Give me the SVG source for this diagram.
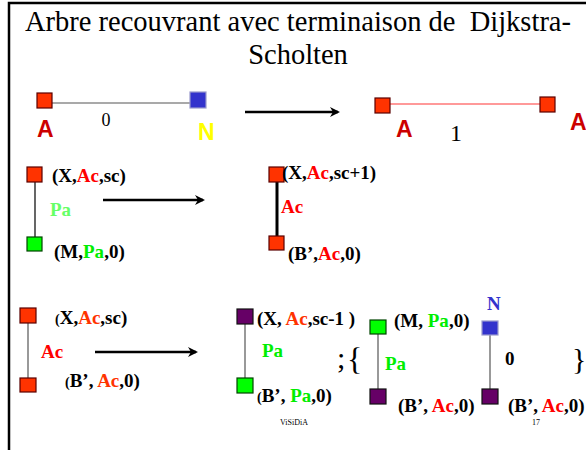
<svg xmlns="http://www.w3.org/2000/svg" width="586" height="450" viewBox="0 0 586 450">
<style>
.t{font-family:"Liberation Serif","Times New Roman","DejaVu Serif",serif;fill:#000}
.b{font-family:"Liberation Serif","Times New Roman","DejaVu Serif",serif;font-weight:bold;font-size:19px}
.k{fill:#000}
.s{font-family:"Liberation Sans",Arial,sans-serif;font-weight:bold}
.r{fill:#ff3300}
.rr{fill:#ff0000}
.g{fill:#00ee00}
.lg{fill:#66ff66}
.nr{fill:#ff3300;stroke:#5a0000;stroke-width:1.2}
.ng{fill:#00ff00;stroke:#004400;stroke-width:1.2}
.nb{fill:#3333cc;stroke:#9999cc;stroke-width:1.2}
.np{fill:#660066;stroke:#111;stroke-width:1.2}
.e{stroke:#555;stroke-width:1.2;fill:none}
.arr{stroke:#000;stroke-width:2.5;fill:none}
</style>
<defs>
<marker id="ah" markerWidth="10" markerHeight="10" refX="8" refY="5" orient="auto" markerUnits="userSpaceOnUse">
<path d="M0,0 L10,5 L0,10 L3,5 Z" fill="#000"/>
</marker>
</defs>
<g id="frame">
<path d="M9,450 V3 H586" stroke="#000" stroke-width="2.5" fill="none"/>
</g>
<g id="title">
<text class="t" x="298" y="31" font-size="28.5" text-anchor="middle" xml:space="preserve">Arbre recouvrant avec terminaison de  Dijkstra-</text>
<text class="t" x="298" y="64" font-size="28.5" text-anchor="middle">Scholten</text>
</g>
<g id="connectors">
<line class="e" x1="52" y1="103" x2="190" y2="103"/>
<line x1="390" y1="104" x2="540" y2="104" stroke="#ff7777" stroke-width="1.5"/>
<line x1="35" y1="182" x2="35" y2="237" stroke="#000" stroke-width="1.2"/>
<line x1="277" y1="182" x2="277" y2="236" stroke="#000" stroke-width="3"/>
<line class="e" x1="28" y1="323" x2="28" y2="378"/>
<line class="e" x1="245" y1="324" x2="245" y2="378"/>
<line class="e" x1="378" y1="334" x2="378" y2="389"/>
<line class="e" x1="490" y1="335" x2="490" y2="389"/>
<line class="arr" x1="245" y1="112" x2="338" y2="112" marker-end="url(#ah)"/>
<line class="arr" x1="103" y1="200" x2="203" y2="200" marker-end="url(#ah)"/>
<line class="arr" x1="95" y1="352" x2="196" y2="352" marker-end="url(#ah)"/>
</g>
<g id="r1-A">
<rect class="nr" x="37" y="93" width="15" height="15"/>
<text class="s" x="37" y="137" font-size="23" fill="#cc0000">A</text>
</g>
<g id="r1-N">
<rect class="nb" x="190" y="92" width="16" height="16"/>
<text class="s" x="198" y="140" font-size="23" fill="#ffff00">N</text>
</g>
<text class="t" x="106" y="126" font-size="18" text-anchor="middle">0</text>
<g id="r1-A2">
<rect class="nr" x="375" y="98" width="15" height="15"/>
<text class="s" x="396" y="137" font-size="23" fill="#cc0000">A</text>
</g>
<g id="r1-A3">
<rect class="nr" x="540" y="97" width="15" height="15"/>
<text class="s" x="570" y="130" font-size="23" fill="#cc0000">A</text>
</g>
<text class="t" x="456" y="141" font-size="24" text-anchor="middle">1</text>

<g id="r2-X">
<rect class="nr" x="27" y="167" width="15" height="15"/>
<text class="b k" x="52" y="182">(X,<tspan class="rr">Ac</tspan>,sc)</text>
</g>
<text class="b lg" x="50" y="216" font-size="21">Pa</text>
<g id="r2-M">
<rect class="ng" x="27" y="237" width="15" height="14"/>
<text class="b k" x="54" y="258">(M,<tspan class="g">Pa</tspan>,0)</text>
</g>
<g id="r2-X2">
<rect class="nr" x="269" y="167" width="15" height="15"/>
<text class="b k" x="282" y="179">(X,<tspan class="rr">Ac</tspan>,sc+1)</text>
</g>
<text class="b rr" x="281" y="213">Ac</text>
<g id="r2-B">
<rect class="nr" x="269" y="236" width="15" height="14"/>
<text class="b k" x="288" y="260">(B’,<tspan class="rr">Ac</tspan>,0)</text>
</g>

<g id="r3-X">
<rect class="nr" x="20" y="308" width="16" height="15"/>
<text class="b k" x="55" y="324"><tspan font-size="14">(</tspan>X,<tspan class="r">Ac</tspan>,sc)</text>
</g>
<text class="b rr" x="41" y="358">Ac</text>
<g id="r3-B">
<rect class="nr" x="20" y="378" width="16" height="14"/>
<text class="b k" x="65" y="387"><tspan font-size="14">(</tspan>B’, <tspan class="r">Ac</tspan>,0)</text>
</g>

<g id="r3-X2">
<rect class="np" x="237" y="309" width="16" height="15"/>
<text class="b k" x="257" y="325">(X, <tspan class="r">Ac</tspan>,sc-1 )</text>
</g>
<text class="b g" x="262" y="357">Pa</text>
<g id="r3-B2">
<rect class="ng" x="237" y="378" width="16" height="15"/>
<text class="b k" x="257" y="402"><tspan font-size="14">(</tspan>B’, <tspan class="g">Pa</tspan>,0)</text>
</g>
<text class="t" x="337" y="368" font-size="30">;</text>
<text class="t" x="347" y="370" font-size="32">{</text>

<g id="r3-M">
<rect class="ng" x="370" y="320" width="16" height="14"/>
<text class="b k" x="394" y="327">(M, <tspan class="g">Pa</tspan>,0)</text>
</g>
<text class="b g" x="385" y="370">Pa</text>
<g id="r3-B3">
<rect class="np" x="370" y="389" width="16" height="15"/>
<text class="b k" x="398" y="412">(B’, <tspan class="rr">Ac</tspan>,0)</text>
</g>

<g id="r3-N">
<rect class="nb" x="482" y="321" width="16" height="14"/>
<text class="b" x="487" y="310" font-size="21" style="fill:#3333cc">N</text>
</g>
<text class="b k" x="505" y="365">0</text>
<g id="r3-B4">
<rect class="np" x="482" y="389" width="16" height="15"/>
<text class="b k" x="508" y="412">(B’, <tspan class="rr">Ac</tspan>,0)</text>
</g>
<text class="t" x="572" y="369" font-size="30">}</text>

<text class="t" x="280" y="425" font-size="8">ViSiDiA</text>
<text class="t" x="532" y="425" font-size="8">17</text>
</svg>
